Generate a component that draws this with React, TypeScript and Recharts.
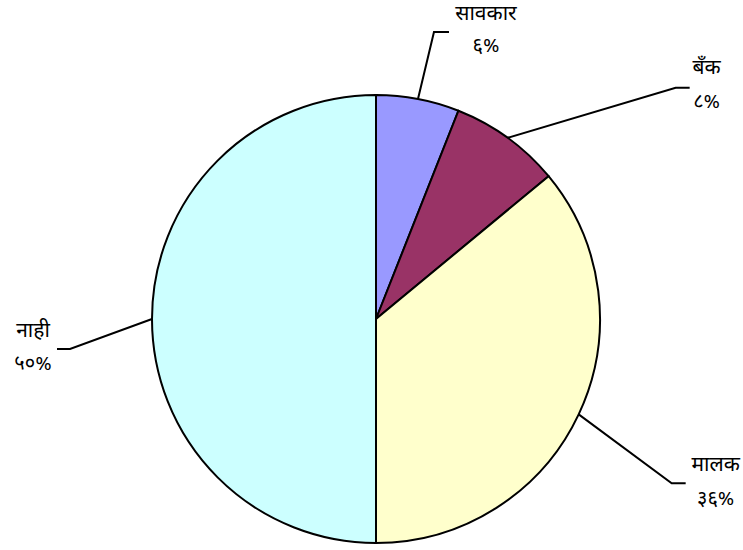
import { PieChart, Pie, Cell } from "recharts";

const categories = ["सावकार", "बँक", "मालक", "नाही"];
const values = [6, 8, 36, 50];
const colors = ["#9999FF", "#993366", "#FFFFCC", "#CCFFFF"];

// leader line layout per slice: elbow offset from slice edge, horizontal tail, text offset from tail end
const LABEL_LAYOUT = [
  { ex: 16, ey: -67, tail: 15, tx: 37, ny: -17, py: 15 },
  { ex: 168, ey: -50, tail: 14, tx: 17, ny: -19, py: 15 },
  { ex: 93, ey: 69, tail: 14, tx: 30, ny: -17, py: 17 },
  { ex: -82, ey: 30, tail: -13, tx: -24, ny: -17, py: 16 },
];

const DEV_DIGITS = "०१२३४५६७८९";
const toDev = (n: number) => String(n).replace(/[0-9]/g, (d) => DEV_DIGITS[Number(d)]);

const data = categories.map((name, i) => ({ name, value: values[i] }));
const total = values.reduce((s, v) => s + v, 0);
const FONT = "'Noto Sans Devanagari', 'Noto Sans', 'DejaVu Sans', sans-serif";

const renderLabel = (props: any) => {
  const { cx, cy, midAngle, outerRadius, index, value } = props;
  const rad = (-midAngle * Math.PI) / 180;
  const x0 = cx + Math.cos(rad) * outerRadius;
  const y0 = cy + Math.sin(rad) * outerRadius;
  const l = LABEL_LAYOUT[index];
  const x1 = x0 + l.ex;
  const y1 = y0 + l.ey;
  const x2 = x1 + l.tail;
  const pct = Math.round((value / total) * 100);
  return (
    <g key={`lbl-${index}`}>
      <polyline points={`${x0},${y0} ${x1},${y1} ${x2},${y1}`} fill="none" stroke="#000" strokeWidth={2} />
      <text x={x2 + l.tx} y={y1 + l.ny} textAnchor="middle" dominantBaseline="central" fontSize={21} fontFamily={FONT} fill="#000">
        {categories[index]}
      </text>
      <text x={x2 + l.tx} y={y1 + l.py} textAnchor="middle" dominantBaseline="central" fontSize={20} fontFamily={FONT} fill="#000">
        {toDev(pct)}%
      </text>
    </g>
  );
};

export default function App() {
  return (
    <div style={{ position: "absolute", left: 0, top: 0, width: 743, height: 550, background: "#fff" }}>
      <PieChart width={743} height={550} margin={{ top: 0, right: 0, bottom: 0, left: 0 }}>
        <Pie
          data={data}
          dataKey="value"
          cx={376}
          cy={319}
          outerRadius={224}
          startAngle={90}
          endAngle={-270}
          stroke="#000"
          strokeWidth={2}
          label={renderLabel}
          labelLine={false}
          isAnimationActive={false}
        >
          {data.map((_, i) => (
            <Cell key={`cell-${i}`} fill={colors[i]} />
          ))}
        </Pie>
      </PieChart>
    </div>
  );
}
